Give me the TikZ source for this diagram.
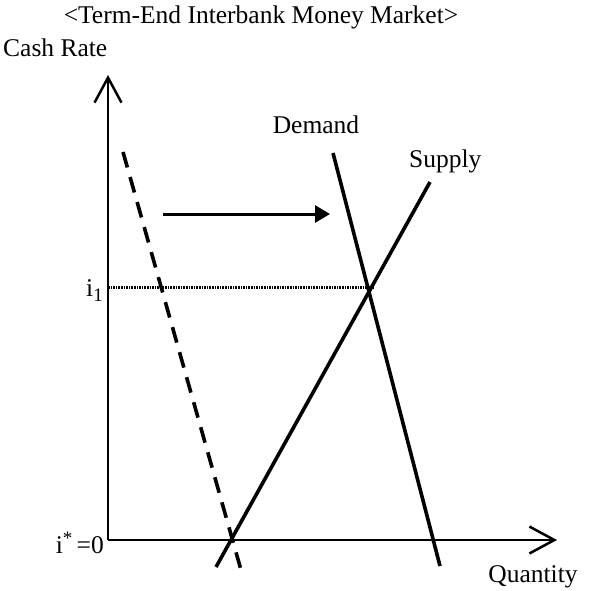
\documentclass[tikz,border=0pt]{standalone}
\usepackage{fontspec}
\setmainfont{Liberation Serif}
\usetikzlibrary{arrows.meta}
\newcommand{\lowidx}[1]{\raisebox{-5pt}{\fontsize{19}{21}\selectfont #1}}
\newcommand{\highidx}[1]{\raisebox{9pt}{\fontsize{19}{21}\selectfont #1}}
\begin{document}
\begin{tikzpicture}[x=1pt,y=-1pt,
  lbl/.style={inner sep=0pt,font=\fontsize{25.5}{30}\selectfont},
  axis/.style={line width=2.5pt,-{Straight Barb[length=25pt,width=27pt,line width=2.5pt]}},
  curve/.style={line width=3.6pt},
  shifted/.style={line width=3.6pt,dash pattern=on 16pt off 10pt},
  guide/.style={line width=3pt,dash pattern=on 1.6pt off 1pt},
  shiftarrow/.style={line width=3pt,-{Triangle[length=15pt,width=17pt]}}]
\useasboundingbox (0,0) rectangle (609,590);
% coordinates
\coordinate (O) at (108,540);
\coordinate (ytip) at (108,75);
\coordinate (xtip) at (557,540);
\coordinate (E) at (374,287);
\coordinate (Y1) at (108,287);
\coordinate (dtop) at (333,153);
\coordinate (dbot) at (440,566);
\coordinate (stop) at (430,182);
\coordinate (sbot) at (216,567);
\coordinate (ntop) at (123,152);
\coordinate (nbot) at (241,570);
\coordinate (a1) at (163,214);
\coordinate (a2) at (330,214);
% labels
\node[lbl] (title) at (261,17) {<Term-End Interbank Money Market>};
\node[lbl,anchor=west] (yl) at (3,48) {Cash Rate};
\node[lbl] (dl) at (316,125) {Demand};
\node[lbl,anchor=west] (sl) at (409,161) {Supply};
\node[lbl] (ql) at (533,577) {Quantity};
\node[lbl,anchor=base east] (i1) at (103,296) {i\lowidx{1}};
\node[lbl,anchor=base east] (i0) at (104,553) {i\highidx{*}\,=0};
% axes
\draw[axis] (O) -- (ytip);
\draw[axis] (O) -- (xtip);
% guide
\draw[guide] (Y1) -- (E);
% curves
\draw[shifted] (ntop) -- (nbot);
\draw[curve] (dtop) -- (dbot);
\draw[curve] (sbot) -- (stop);
\draw[shiftarrow] (a1) -- (a2);
\end{tikzpicture}
\end{document}
